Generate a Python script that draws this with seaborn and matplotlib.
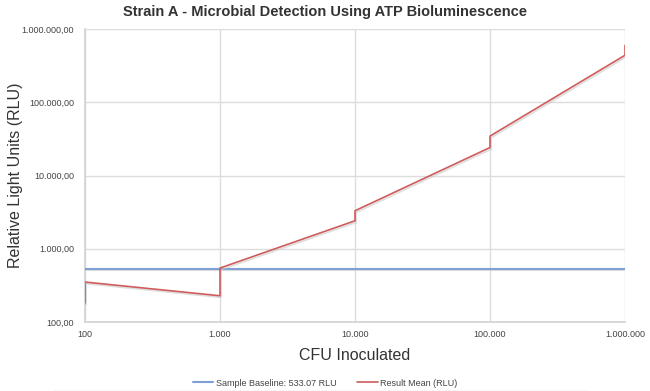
import matplotlib
matplotlib.use("Agg")
import matplotlib.pyplot as plt
import matplotlib.patheffects as pe
from matplotlib.lines import Line2D
from matplotlib.ticker import FixedLocator, FuncFormatter, NullLocator
import seaborn as sns
import pandas as pd

# Data
cfu = [100, 100, 1000, 1000, 10000, 10000, 100000, 100000, 1000000, 1000000]
rlu_mean = [182, 351, 228, 545, 2410, 3300, 24100, 34500, 438000, 596000]
baseline_value = 533.07
x_ticks = [100, 1000, 10000, 100000, 1000000]
y_ticks = [100, 1000, 10000, 100000, 1000000]

sns.set_theme(style="white")
plt.rcParams['font.family'] = ['Liberation Sans', 'DejaVu Sans']

fig, ax = plt.subplots(figsize=(6.5, 3.91), dpi=100)
fig.subplots_adjust(left=85/650, right=625/650, top=1 - 29/391, bottom=1 - 322/391)

shadow = [pe.SimpleLineShadow(offset=(0.8, -1.2), shadow_color="#c8c8c8", alpha=0.6), pe.Normal()]

base_df = pd.DataFrame({"x": [x_ticks[0], x_ticks[-1]], "y": [baseline_value, baseline_value]})
sns.lineplot(data=base_df, x="x", y="y", ax=ax, color="#7f9fd5", linewidth=1.5,
             label="Sample Baseline: 533.07 RLU", path_effects=shadow, legend=False, zorder=3)

df = pd.DataFrame({"x": cfu, "y": rlu_mean})
sns.lineplot(data=df, x="x", y="y", ax=ax, sort=False, estimator=None, color="#cf5b5b",
             linewidth=1.2, label="Result Mean (RLU)", path_effects=shadow, legend=False, zorder=3)

ax.set_xscale("log")
ax.set_yscale("log")
ax.set_xlim(100, 1000000)
ax.set_ylim(100, 1000000)

def eu(v, decimals):
    s = f"{v:,.{decimals}f}"
    return s.replace(",", "X").replace(".", ",").replace("X", ".")

ax.xaxis.set_major_locator(FixedLocator(x_ticks))
ax.yaxis.set_major_locator(FixedLocator(y_ticks))
ax.xaxis.set_minor_locator(NullLocator())
ax.yaxis.set_minor_locator(NullLocator())
ax.xaxis.set_major_formatter(FuncFormatter(lambda v, p: eu(v, 0)))
ax.yaxis.set_major_formatter(FuncFormatter(lambda v, p: eu(v, 2)))
ax.tick_params(axis="both", labelsize=6.5, colors="#444444", length=0)
ax.tick_params(axis="y", pad=8)
ax.tick_params(axis="x", pad=6)

ax.grid(True, color="#dcdcdc", linewidth=1.0)
for s in ax.spines.values():
    s.set_visible(False)
ax.spines["left"].set_visible(True)
ax.spines["left"].set_color("#d4d4d4")
ax.spines["bottom"].set_visible(True)
ax.spines["bottom"].set_color("#d4d4d4")

fig.text(0.5, 1 - 12/391, "Strain A - Microbial Detection Using ATP Bioluminescence",
         fontsize=10.5, fontweight="bold", color="#333333", ha="center", va="center")
ax.set_xlabel("CFU Inoculated", fontsize=11.5, color="#333333", labelpad=6)
ax.set_ylabel("Relative Light Units (RLU)", fontsize=11.5, color="#333333")
ax.yaxis.set_label_coords(-(85 - 23) / 540, 0.5)

handles, labels = ax.get_legend_handles_labels()
leg = fig.legend(handles, labels, loc="center", bbox_to_anchor=(0.5, 1 - 383/391), ncol=2,
                 frameon=False, fontsize=6.5, handlelength=2.3, columnspacing=2.3,
                 handletextpad=0.25)
for t in leg.get_texts():
    t.set_color("#444444")
for h in leg.legend_handles:
    h.set_path_effects([])

fig.add_artist(Line2D([53/650, 588/650], [0.5/391, 0.5/391], color="#d8d8d8", linewidth=1.0,
                      transform=fig.transFigure))

fig.savefig("out.png", dpi=100)
